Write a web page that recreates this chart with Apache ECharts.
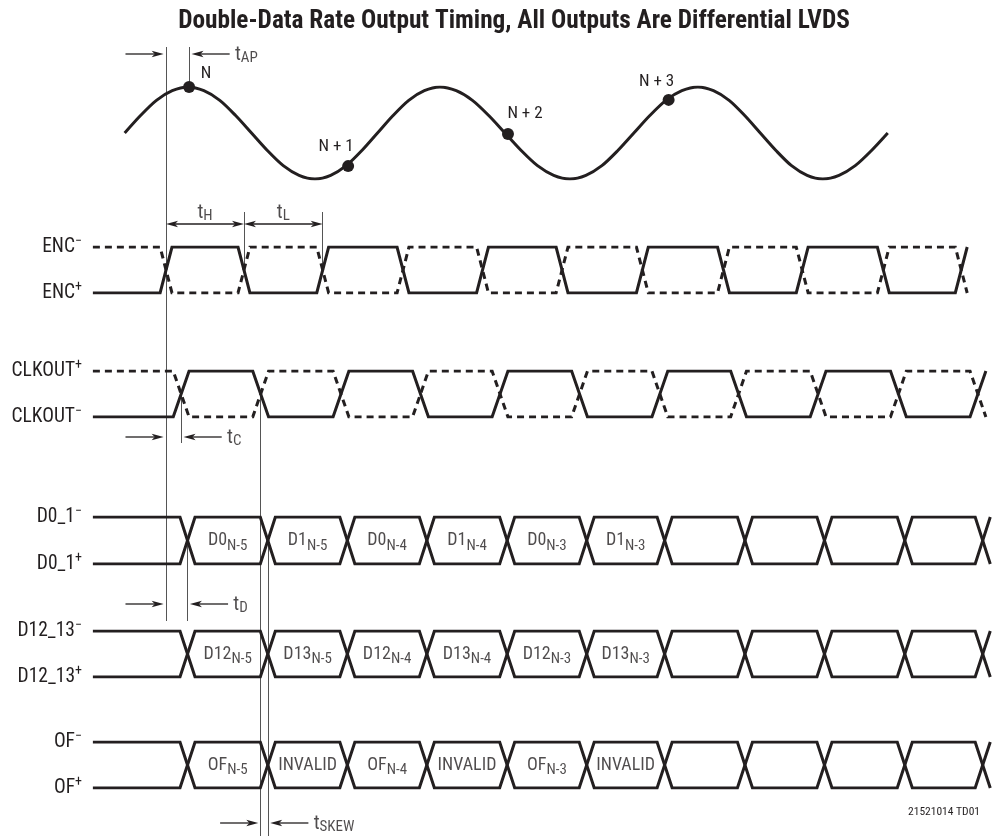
<!DOCTYPE html>
<html><head><meta charset="utf-8">
<script src="https://cdn.jsdelivr.net/npm/echarts@6/dist/echarts.min.js"></script>
<style>html,body{margin:0;padding:0;background:#fff}#c{width:1003px;height:840px}</style>
</head><body><div id="c"></div>
<script>
// ===== DATA (time axis in units of half an ENC period; 0 = first ENC crossing) =====
const titleText = 'Double-Data Rate Output Timing, All Outputs Are Differential LVDS';
const footnote = '21521014 TD01';
const traceStart = -0.92;
// analog input (normalised amplitude)
const inputT = [-0.52,-0.321,-0.121,0.078,0.277,0.476,0.676,0.875,1.075,1.274,1.474,1.673,1.873,2.07,2.266,2.463,2.659,2.855,3.052,3.248,3.444,3.649,3.853,4.058,4.262,4.466,4.671,4.875,5.079,5.28,5.481,5.682,5.883,6.084,6.286,6.487,6.688,6.884,7.081,7.277,7.473,7.67,7.866,8.062,8.259,8.463,8.667,8.872,9.076];
const inputV = [0,0.38,0.71,0.92,1,0.92,0.71,0.38,0,-0.38,-0.71,-0.92,-1,-0.92,-0.71,-0.38,0,0.38,0.71,0.92,1,0.92,0.71,0.38,0,-0.38,-0.71,-0.92,-1,-0.92,-0.71,-0.38,0,0.38,0.71,0.92,1,0.92,0.71,0.38,0,-0.38,-0.71,-0.92,-1,-0.92,-0.71,-0.38,0];
const sampleT = [0.29,2.29,4.30,6.32];
const sampleV = [1,-0.72,-0.02,0.72];
const sampleNames = ['N','N + 1','N + 2','N + 3'];
// crossing times
const encEdges = [0,0.98,1.97,2.98,3.98,4.98,5.99,7.01,8.0,9.02,10.0];
const clkEdges = [0.19,1.19,2.2,3.2,4.2,5.2,6.21,7.2,8.2,9.21,10.21];
const dataEdges = [0.27,1.28,2.28,3.28,4.29,5.29,6.27,7.28,8.28,9.29,10.27];
// signal names [top, bottom] as [text, superscript]
const encNames = [['ENC','\u2212'],['ENC','+']];
const clkNames = [['CLKOUT','+'],['CLKOUT','\u2212']];
const d01Names = [['D0_1','\u2212'],['D0_1','+']];
const d1213Names = [['D12_13','\u2212'],['D12_13','+']];
const ofNames = [['OF','\u2212'],['OF','+']];
// data words [text, subscript]
const d01Words = [['D0','N-5'],['D1','N-5'],['D0','N-4'],['D1','N-4'],['D0','N-3'],['D1','N-3']];
const d1213Words = [['D12','N-5'],['D13','N-5'],['D12','N-4'],['D13','N-4'],['D12','N-3'],['D13','N-3']];
const ofWords = [['OF','N-5'],['INVALID',''],['OF','N-4'],['INVALID',''],['OF','N-3'],['INVALID','']];
// timing parameter names
const tAP = ['t','AP'], tH = ['t','H'], tL = ['t','L'], tC = ['t','C'], tD = ['t','D'], tSKEW = ['t','SKEW'];

// ===== STYLE / LAYOUT =====
const F = "'Liberation Sans Narrow','Arial Narrow','Roboto Condensed',sans-serif";
const INK = '#231f20';
const GUIDE = '#555';
const RICH = {
  m: {fontSize: 18, fontFamily: F, color: INK, lineHeight: 26},
  b: {fontSize: 15, fontFamily: F, color: INK, lineHeight: 18, verticalAlign: 'bottom'},
  rm: {fontSize: 19.5, fontFamily: F, color: INK, lineHeight: 26},
  p: {fontSize: 14, fontFamily: F, color: INK, lineHeight: 14, verticalAlign: 'top'},
  tm: {fontSize: 20, fontFamily: F, color: INK, lineHeight: 22},
  ts: {fontSize: 15, fontFamily: F, color: INK, lineHeight: 14, verticalAlign: 'bottom'}
};
const subTxt = w => '{m|' + w[0] + '}' + (w[1] ? '{b|' + w[1] + '}' : '');
const supTxt = w => '{rm|' + w[0] + '}{p|' + w[1] + '}';
const tTxt = w => '{tm|' + w[0] + '}{ts|' + w[1] + '}';

const rows = [
  {top: 87, height: 92},
  {top: 247, height: 46, names: encNames},
  {top: 371, height: 46, names: clkNames},
  {top: 517, height: 47, names: d01Names},
  {top: 631, height: 46, names: d1213Names},
  {top: 742, height: 46, names: ofNames},
  {top: 0, height: 840}
];
const ANN = 6;
const grid = rows.map(r => ({left: 7, right: 2, top: r.top, height: r.height}));
const xAxis = rows.map((r, i) => ({type: 'value', gridIndex: i, min: -2, max: 10.5, show: false}));
const yAxis = rows.map((r, i) => {
  if (i === 0) return {type: 'value', gridIndex: 0, min: -1, max: 1, show: false};
  if (i === ANN) return {type: 'value', gridIndex: i, min: 0, max: 840, inverse: true, show: false};
  return {
    type: 'value', gridIndex: i, min: 0, max: 1, interval: 1, position: 'left', offset: -86,
    axisLine: {show: false}, axisTick: {show: false}, splitLine: {show: false},
    axisLabel: {show: true, margin: 11, rich: RICH,
      formatter: v => v === 1 ? supTxt(r.names[0]) : (v === 0 ? supTxt(r.names[1]) : '')}
  };
});

function trace(edges, halfW, startLevel) {
  const pts = [[traceStart, startLevel]];
  let lvl = startLevel;
  edges.forEach(c => { pts.push([c - halfW, lvl]); lvl = 1 - lvl; pts.push([c + halfW, lvl]); });
  return pts;
}
function wave(i, data, dashed) {
  return {type: 'line', xAxisIndex: i, yAxisIndex: i, data, showSymbol: false, silent: true, z: dashed ? 2 : 3,
    lineStyle: {color: INK, width: 3, type: dashed ? [7, 5] : 'solid', join: 'miter', cap: 'butt'}};
}
function words(i, list) {
  return {type: 'scatter', xAxisIndex: i, yAxisIndex: i, symbolSize: 1, silent: true,
    itemStyle: {color: 'rgba(0,0,0,0)'},
    data: list.map((w, k) => ({value: [(dataEdges[k] + dataEdges[k + 1]) / 2, 0.5], name: subTxt(w)})),
    label: {show: true, position: 'inside', formatter: p => p.name, rich: RICH, color: INK, textBorderWidth: 0}};
}

// ===== annotation layer (x = time, y = layout pixels) =====
const Y = {ap: 54, hl: 224, c: 437, d: 604, skew: 823, top: 47};
const GAP = 0.03, ALEN = 0.48;
const guides = [
  [encEdges[0], Y.top, 621],
  [sampleT[0], Y.top, 86],
  [encEdges[1], 212, 270],
  [encEdges[2], 212, 270],
  [clkEdges[0], 394, 443],
  [clkEdges[1], 394, 836],
  [dataEdges[0], 540, 621],
  [dataEdges[1], 540, 836]
];
const measure = [
  {from: encEdges[0], to: sampleT[0], y: Y.ap, name: tAP},
  {from: encEdges[0], to: clkEdges[0], y: Y.c, name: tC},
  {from: encEdges[0], to: dataEdges[0], y: Y.d, name: tD},
  {from: clkEdges[1], to: dataEdges[1], y: Y.skew, name: tSKEW}
];
const arrows = [];
const annLabels = [];
measure.forEach(m => {
  arrows.push([m.from - GAP - ALEN, m.y, m.from - GAP, m.y, 1]);
  arrows.push([m.to + GAP + ALEN, m.y, m.to + GAP, m.y, 1]);
  annLabels.push({value: [m.to + GAP + ALEN + 0.06, m.y + 1], name: tTxt(m.name), label: {position: 'right', distance: 0}});
});
arrows.push([encEdges[0], Y.hl, encEdges[1], Y.hl, 2]);
arrows.push([encEdges[1], Y.hl, encEdges[2], Y.hl, 2]);
annLabels.push({value: [(encEdges[0] + encEdges[1]) / 2, 213], name: tTxt(tH), label: {position: 'inside'}});
annLabels.push({value: [(encEdges[1] + encEdges[2]) / 2, 213], name: tTxt(tL), label: {position: 'inside'}});

function renderArrow(params, api) {
  const a = api.coord([api.value(0), api.value(1)]);
  const b = api.coord([api.value(2), api.value(3)]);
  const both = api.value(4) === 2;
  const dx = b[0] - a[0], dy = b[1] - a[1], len = Math.hypot(dx, dy) || 1;
  const ux = dx / len, uy = dy / len, nx = -uy, ny = ux;
  const L = 12, W = 3.3, N = 9;
  const head = (p, sx, sy) => ({type: 'polygon', shape: {points: [
    [p[0], p[1]], [p[0] - sx * L + nx * W, p[1] - sy * L + ny * W],
    [p[0] - sx * N, p[1] - sy * N], [p[0] - sx * L - nx * W, p[1] - sy * L - ny * W]]},
    style: {fill: INK}});
  const children = [{type: 'line', shape: {
    x1: both ? a[0] + ux * N : a[0], y1: both ? a[1] + uy * N : a[1],
    x2: b[0] - ux * N, y2: b[1] - uy * N}, style: {stroke: INK, lineWidth: 1.3}}, head(b, ux, uy)];
  if (both) children.push(head(a, -ux, -uy));
  return {type: 'group', children};
}

const series = [
  {type: 'line', xAxisIndex: 0, yAxisIndex: 0, smooth: 0.3, showSymbol: false, silent: true,
    data: inputT.map((t, i) => [t, inputV[i]]), lineStyle: {color: INK, width: 3}},
  {type: 'scatter', xAxisIndex: 0, yAxisIndex: 0, symbolSize: 12, silent: true, itemStyle: {color: INK, opacity: 1}, z: 5,
    data: sampleT.map((t, i) => {
      const off = [[17, -13], [-12, -19], [17, -20], [-12, -18]][i];
      return {value: [t, sampleV[i]], name: sampleNames[i], label: {offset: off}};
    }),
    label: {show: true, position: 'inside', formatter: p => p.name, color: INK, fontSize: 17, fontFamily: F, textBorderWidth: 0}},
  wave(1, trace(encEdges, 0.075, 1), true),
  wave(1, trace(encEdges, 0.075, 0), false),
  wave(2, trace(clkEdges, 0.1, 1), true),
  wave(2, trace(clkEdges, 0.1, 0), false),
  wave(3, trace(dataEdges, 0.095, 1), false),
  wave(3, trace(dataEdges, 0.095, 0), false),
  wave(4, trace(dataEdges, 0.095, 1), false),
  wave(4, trace(dataEdges, 0.095, 0), false),
  wave(5, trace(dataEdges, 0.095, 1), false),
  wave(5, trace(dataEdges, 0.095, 0), false),
  words(3, d01Words),
  words(4, d1213Words),
  words(5, ofWords),
  {type: 'lines', coordinateSystem: 'cartesian2d', xAxisIndex: ANN, yAxisIndex: ANN, silent: true, z: 1,
    data: guides.map(g => ({coords: [[g[0], g[1]], [g[0], g[2]]]})),
    lineStyle: {color: GUIDE, width: 1, opacity: 1}},
  {type: 'custom', xAxisIndex: ANN, yAxisIndex: ANN, silent: true, z: 4, renderItem: renderArrow,
    encode: {x: [0, 2], y: [1, 3]}, data: arrows},
  {type: 'scatter', xAxisIndex: ANN, yAxisIndex: ANN, symbolSize: 1, silent: true, z: 4,
    itemStyle: {color: 'rgba(0,0,0,0)'}, data: annLabels,
    label: {show: true, formatter: p => p.name, rich: RICH, color: INK, textBorderWidth: 0}}
];

const chart = echarts.init(document.getElementById('c'), null, {renderer: 'canvas', width: 1003, height: 840});
chart.setOption({
  animation: false,
  backgroundColor: '#fff',
  title: [
    {text: titleText, left: 509, top: 4, textAlign: 'center',
      textStyle: {fontFamily: F, fontWeight: 'bold', fontSize: 25.3, color: INK}},
    {text: footnote, right: 18, top: 801,
      textStyle: {fontFamily: F, fontWeight: 'normal', fontSize: 11.5, color: INK}}
  ],
  grid, xAxis, yAxis, series
});
</script>
</body></html>
